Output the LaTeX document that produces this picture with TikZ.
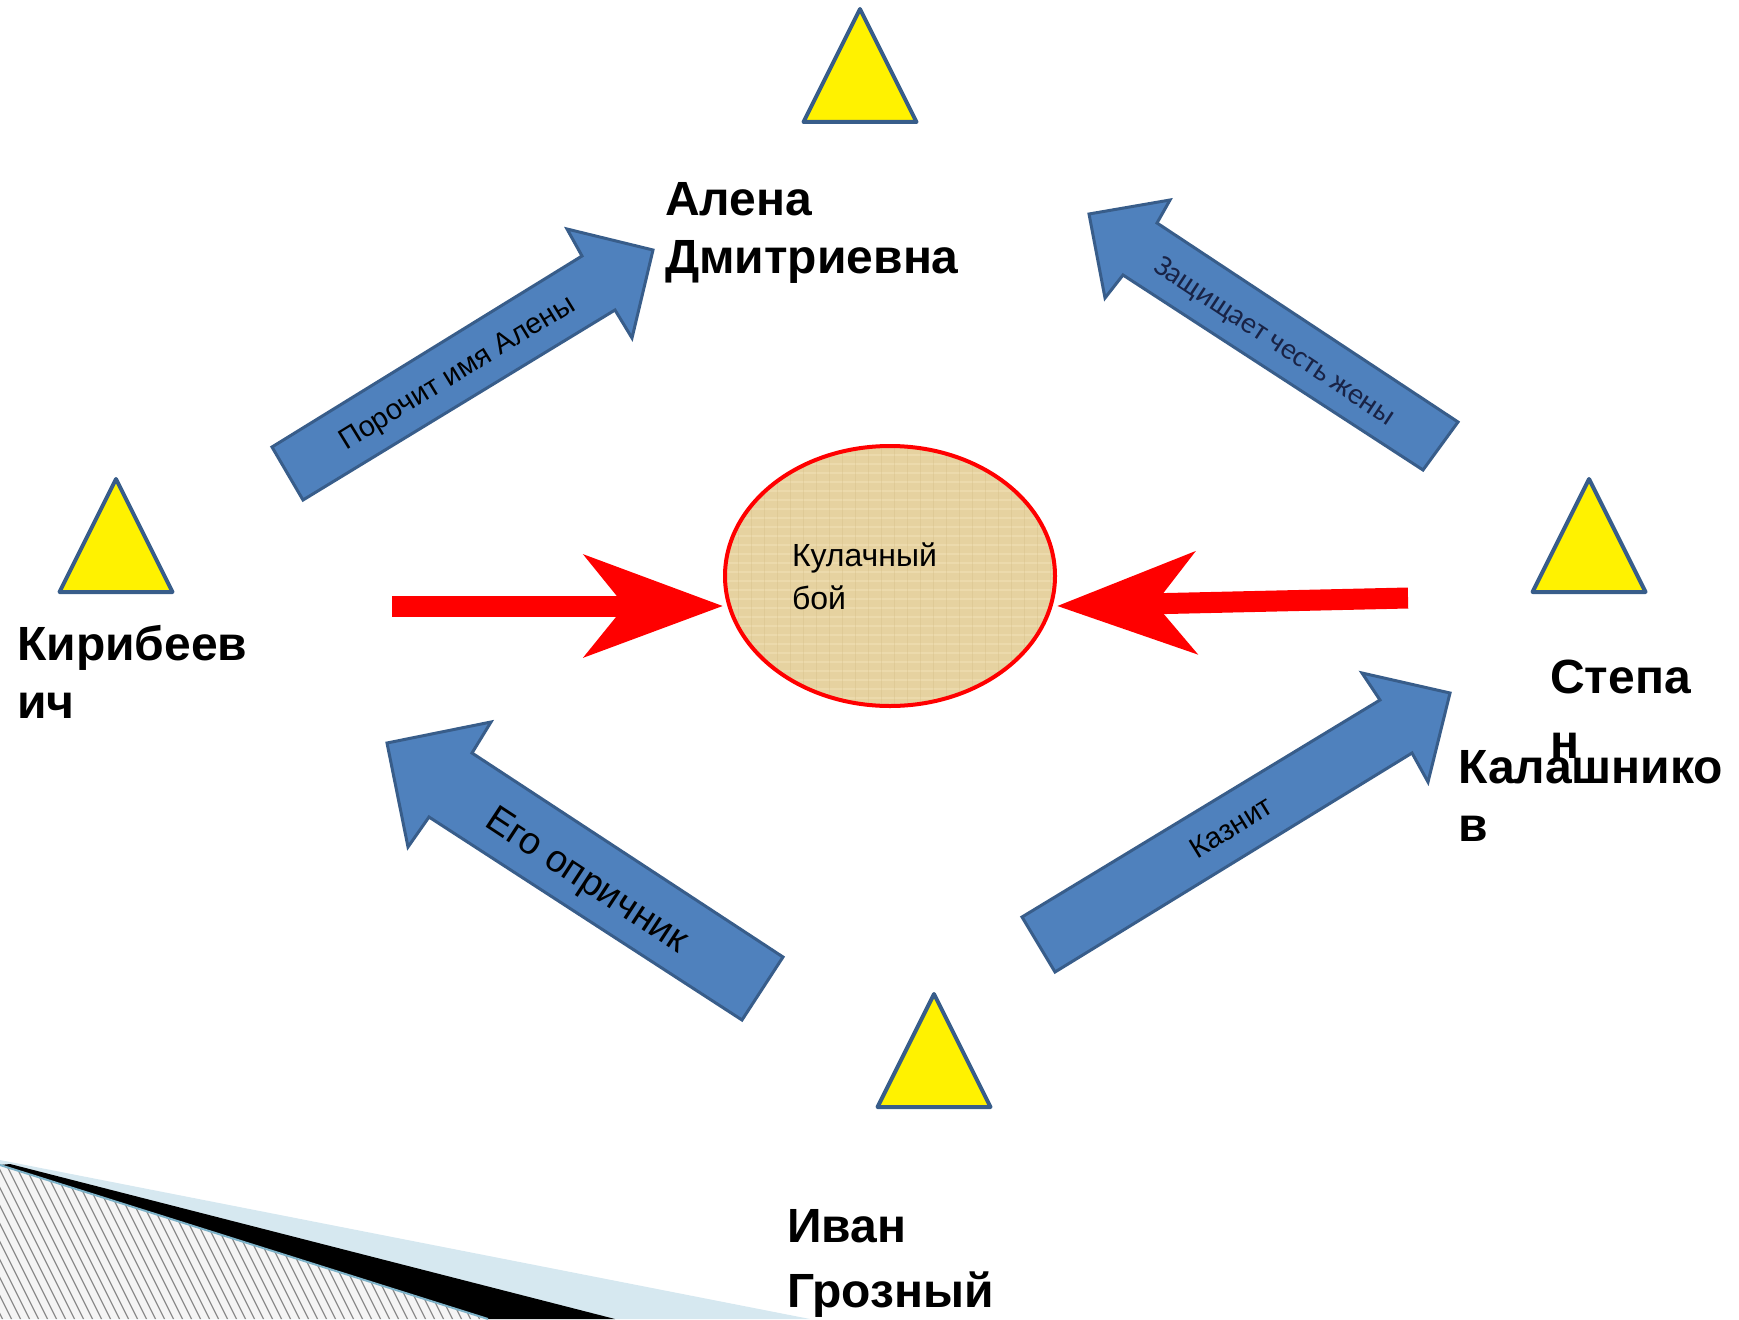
\documentclass[tikz,border=0pt]{standalone}
\usepackage{fontspec}
\setmainfont{Liberation Sans}
\newfontfamily\calibrifont{Carlito}
\usetikzlibrary{shapes.geometric, arrows.meta, calc}
\definecolor{arrowblue}{HTML}{4F81BD}
\definecolor{arrowedge}{HTML}{385D8A}
\definecolor{papyrus}{RGB}{230,210,160}
\definecolor{papyrusdark}{RGB}{212,188,132}
\definecolor{papyruslight}{RGB}{240,224,180}
\definecolor{paleblue}{RGB}{214,232,240}
\definecolor{hatchedge}{RGB}{125,178,200}
\definecolor{navytext}{RGB}{25,35,70}
\tikzset{
	person/.style={draw=arrowedge, line width=4pt, fill=yellow, isosceles triangle, isosceles triangle stretches, shape border rotate=90, minimum width=113pt, minimum height=113pt, inner sep=0pt, outer sep=0pt, anchor=apex, line join=round},
	who/.style={font=\bfseries\fontsize{48}{58}\selectfont, align=left, anchor=base west, inner sep=0pt},
	block/.style={fill=arrowblue, draw=arrowedge, line width=3pt, line join=miter},
	blocktext/.style={font=\fontsize{29}{34}\selectfont, inner sep=0pt},
	hit/.style={draw=red, line width=21pt, -{Stealth[length=138pt, width=101pt, inset=40pt]}},
}
\begin{document}
\begin{tikzpicture}[x=1pt, y=-1pt]
	\useasboundingbox (0,0) rectangle (1739,1319);
	
	% corner decoration
	\fill[paleblue] (0,1160) -- (810,1319) -- (0,1319) -- cycle;
	\fill[black] (10,1164) -- (615,1319) -- (488,1319) -- (0,1165) -- cycle;
	\begin{scope}
		\clip (0,1165) -- (488,1319) -- (0,1319) -- cycle;
		\fill[black!4] (0,1150) rectangle (500,1319);
		\foreach \x in {-100,-91,...,500}
			\draw[black!45, line width=1.2pt] (\x,1150) -- ++(90,180);
	\end{scope}
	\draw[hatchedge, line width=2pt] (0,1165) -- (488,1319);
	
	% characters
	\node (alena) [person] at (860,9) {};
	\node (kirib) [person] at (116,479) {};
	\node (stepan) [person] at (1589,479) {};
	\node (ivan) [person] at (934,994) {};
	
	% base = last line
	\node (alenaname) [who] at (665,273) {Алена\\Дмитриевна};
	\node (kiribname) [who] at (17,718) {Кирибеев\\ич};
	\node (stepanname) [who] at (1550,758) {Степа\\[7pt]н};
	\node (kalashname) [who] at (1458,841) {Калашнико\\в};
	\node (ivanname) [who] at (787,1307) {Иван\\[7pt]Грозный};
	
	% the fight
	\node (fight) [ellipse, draw=red, line width=4pt, fill=papyrus, minimum width=330pt, minimum height=260pt, text width=196pt, align=left, font=\fontsize{32}{43}\selectfont,
		path picture={
			\foreach \y in {0,9,...,270}
				\draw[papyruslight, line width=1.5pt, opacity=.6] ($(path picture bounding box.north west)+(0,\y)$) -- ++(340,0);
			\foreach \x in {0,13,...,340}
				\draw[papyrusdark, line width=1pt, opacity=.35] ($(path picture bounding box.north west)+(\x,0)$) -- ++(0,270);
		}] at (890,576) {Кулачный\\бой};
	
	\coordinate (fromkirib) at (392,606);
	\coordinate (fromstepan) at (1408,598);
	\draw[hit] (fromkirib) -- (fromkirib -| fight.west);
	\draw[hit] (fromstepan) -- (fight.east |- fromkirib);
	
	% relations
	\draw[block] (272,447) -- (582,256) -- (567,229) -- (653,250) -- (632,338) -- (615,310) -- (303,500) -- cycle;
	\node (porochit) [blocktext, rotate=31.5] at (458,374) {Порочит имя Алены};
	
	\draw[block] (1458,422) -- (1157,223) -- (1170,200) -- (1089,214) -- (1105,298) -- (1123,275) -- (1423,470) -- cycle;
	\node (zashchita) [blocktext, rotate=-33.5, text=navytext, font=\calibrifont\fontsize{30}{36}\selectfont] at (1274,342) {Защищает честь жены};
	
	\draw[block] (783,957) -- (472,753) -- (491,722) -- (387,743) -- (408,847) -- (429,817) -- (742,1020) -- cycle;
	\node (oprichnik) [blocktext, rotate=-33.3, font=\fontsize{38}{44}\selectfont] at (586,882) {Его опричник};
	
	\draw[block] (1022,917) -- (1380,700) -- (1362,673) -- (1450,693) -- (1428,782) -- (1412,753) -- (1055,972) -- cycle;
	\node (kaznit) [blocktext, rotate=31.5] at (1231,827) {Казнит};
	
\end{tikzpicture}
\end{document}
